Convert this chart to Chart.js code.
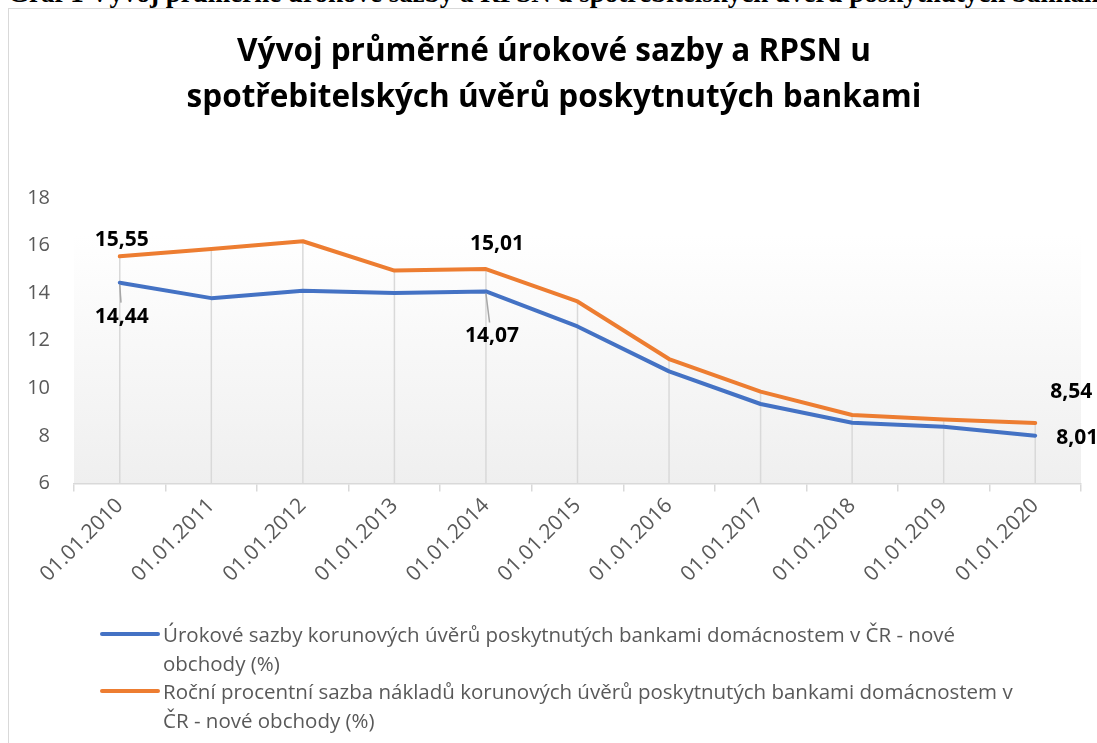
<!DOCTYPE html>
<html>
<head>
<meta charset="utf-8">
<script src="https://cdn.jsdelivr.net/npm/chart.js@4"></script>
<style>
  body { margin: 0; background: #fff; width: 1097px; height: 743px; overflow: hidden; position: relative; }
  #caption { position: absolute; left: 8px; top: -22px; white-space: nowrap;
             font: bold 27px "Liberation Serif", "DejaVu Serif", serif; color: #000; }
  #frame { position: absolute; left: 8px; top: 8px; width: 1200px; height: 800px;
           border: 1px solid #d9d9d9; box-sizing: border-box; background: #fff; }
  #wrap { position: absolute; left: 0; top: 0; width: 1097px; height: 743px; }
  #legend { position: absolute; left: 100px; top: 620px; width: 941px;
            font: 20.5px "Open Sans", "Noto Sans", sans-serif; color: #595959; line-height: 28.7px; }
  .item { position: relative; padding-left: 63px; }
  .swatch { position: absolute; left: 0; top: 12px; width: 60px; height: 4px; border-radius: 2px; }
</style>
</head>
<body>
<div id="caption">Graf 1 Vývoj průměrné úrokové sazby a RPSN u spotřebitelských úvěrů poskytnutých bankami</div>
<div id="frame"></div>
<div id="wrap"><canvas id="chart" width="1097" height="743"></canvas></div>
<div id="legend"></div>

<script>
// --- data ---
const years = ['01.01.2010', '01.01.2011', '01.01.2012', '01.01.2013', '01.01.2014', '01.01.2015',
               '01.01.2016', '01.01.2017', '01.01.2018', '01.01.2019', '01.01.2020'];
const urokoveSazby = [14.44, 13.79, 14.10, 14.01, 14.07, 12.60, 10.71, 9.34, 8.55, 8.38, 8.01];
const rpsn = [15.55, 15.86, 16.18, 14.95, 15.01, 13.65, 11.23, 9.86, 8.88, 8.69, 8.54];
const seriesNames = [
    'Úrokové sazby korunových úvěrů poskytnutých bankami domácnostem v ČR - nové obchody (%)',
    'Roční procentní sazba nákladů korunových úvěrů poskytnutých bankami domácnostem v ČR - nové obchody (%)'
];
const titleLines = ['Vývoj průměrné úrokové sazby a RPSN u', 'spotřebitelských úvěrů poskytnutých bankami'];

// popisky jen u vybraných bodů: [dataset, index, dx, dy, vodicí čára]
const pointLabels = [
    [1, 0, 2, -16, false],
    [0, 0, 2, 34, true],
    [1, 4, 11, -25, false],
    [0, 4, 6, 45, true],
    [1, 10, 36, -31, false],
    [0, 10, 42, 2, false]
];

const BLUE = '#4472c4';
const ORANGE = '#ed7d31';
const FONT = '"Open Sans", "Noto Sans", sans-serif';

// pozadí plochy grafu (jemný přechod do šeda)
const plotBackground = {
    id: 'plotBackground',
    beforeDraw(chart) {
        const { ctx, chartArea: a } = chart;
        const top = a.top + (a.bottom - a.top) * 0.13;
        const g = ctx.createLinearGradient(0, top, 0, a.bottom);
        g.addColorStop(0, '#ffffff');
        g.addColorStop(1, '#efefef');
        ctx.save();
        ctx.fillStyle = g;
        ctx.fillRect(a.left, top, a.right - a.left, a.bottom - top);
        ctx.restore();
    }
};

// svislé spojnice od nejvyššího bodu k ose
const dropLines = {
    id: 'dropLines',
    beforeDatasetsDraw(chart) {
        const { ctx, chartArea: a } = chart;
        const metas = chart.data.datasets.map((d, i) => chart.getDatasetMeta(i));
        ctx.save();
        ctx.strokeStyle = '#d9d9d9';
        ctx.lineWidth = 1.5;
        years.forEach((y, i) => {
            const top = Math.min(...metas.map(m => m.data[i].y));
            const x = metas[0].data[i].x;
            ctx.beginPath();
            ctx.moveTo(x, top);
            ctx.lineTo(x, a.bottom);
            ctx.stroke();
        });
        ctx.restore();
    }
};

const valueLabels = {
    id: 'valueLabels',
    afterDatasetsDraw(chart) {
        const ctx = chart.ctx;
        ctx.save();
        ctx.font = 'bold 21px ' + FONT;
        ctx.fillStyle = '#000';
        ctx.textAlign = 'center';
        ctx.textBaseline = 'middle';
        pointLabels.forEach(([ds, i, dx, dy, leader]) => {
            const p = chart.getDatasetMeta(ds).data[i];
            const v = chart.data.datasets[ds].data[i];
            const tx = p.x + dx, ty = p.y + dy;
            if (leader) {
                ctx.strokeStyle = '#a6a6a6';
                ctx.lineWidth = 1.5;
                ctx.beginPath();
                ctx.moveTo(p.x, p.y + 2);
                ctx.lineTo(p.x + dx * 0.6, ty - 14);
                ctx.stroke();
            }
            ctx.fillText(v.toFixed(2).replace('.', ','), tx, ty);
        });
        ctx.restore();
    }
};

const chart = new Chart(document.getElementById('chart'), {
    type: 'line',
    data: {
        labels: years,
        datasets: [
            { label: seriesNames[0], data: urokoveSazby, borderColor: BLUE, backgroundColor: BLUE },
            { label: seriesNames[1], data: rpsn, borderColor: ORANGE, backgroundColor: ORANGE }
        ]
    },
    options: {
        responsive: false,
        animation: false,
        elements: {
            line: { borderWidth: 4, tension: 0, borderCapStyle: 'round', borderJoinStyle: 'round' },
            point: { radius: 0 }
        },
        layout: { padding: { left: 27, right: 16, top: 22, bottom: 154 } },
        plugins: {
            legend: { display: false },
            tooltip: { enabled: false },
            title: {
                display: true,
                text: titleLines,
                color: '#000',
                font: { family: FONT, size: 31.5, weight: 'bold', lineHeight: 1.46 },
                padding: { top: 7, bottom: 77 }
            }
        },
        scales: {
            x: {
                offset: true,
                grid: { offset: true, drawOnChartArea: false, drawTicks: true, tickLength: 8, color: '#d9d9d9', lineWidth: 1.5 },
                border: { color: '#d9d9d9', width: 1.5 },
                ticks: {
                    color: '#595959',
                    font: { family: FONT, size: 21 },
                    minRotation: 45, maxRotation: 45, padding: 2
                },
                // šikmé popisky smí přesahovat doleva jako v Excelu
                afterFit(scale) { scale.paddingLeft = 0; }
            },
            y: {
                min: 6, max: 18,
                grid: { display: false, drawTicks: false },
                border: { display: false },
                ticks: {
                    stepSize: 2, padding: 24,
                    color: '#595959',
                    font: { family: FONT, size: 20 }
                },
                afterFit(scale) { scale.width = 47; }
            }
        }
    },
    plugins: [plotBackground, dropLines, valueLabels]
});

// legenda se zalamováním textu
const legend = document.getElementById('legend');
chart.data.datasets.forEach(ds => {
    const item = document.createElement('div');
    item.className = 'item';
    const sw = document.createElement('span');
    sw.className = 'swatch';
    sw.style.background = ds.borderColor;
    item.appendChild(sw);
    item.appendChild(document.createTextNode(ds.label));
    legend.appendChild(item);
});
</script>
</body>
</html>
